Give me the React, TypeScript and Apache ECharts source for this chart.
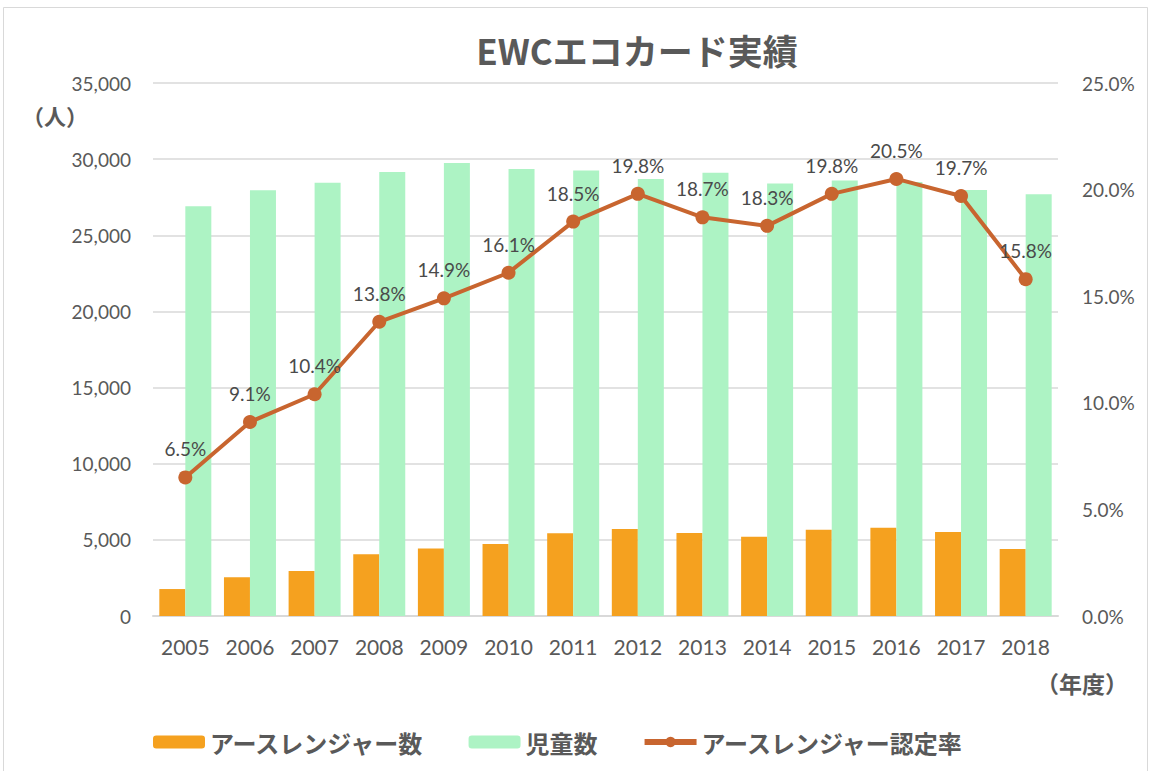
import React, { useEffect, useRef } from "react";
import * as echarts from "echarts";

const years = ["2005","2006","2007","2008","2009","2010","2011","2012","2013","2014","2015","2016","2017","2018"];
const earthRangers = [1770, 2540, 2950, 4050, 4440, 4730, 5430, 5710, 5450, 5210, 5670, 5800, 5520, 4400];
const children = [26900, 27950, 28450, 29150, 29750, 29350, 29250, 28700, 29100, 28400, 28600, 28500, 27970, 27700];
const rate = [6.5, 9.1, 10.4, 13.8, 14.9, 16.1, 18.5, 19.8, 18.7, 18.3, 19.8, 20.5, 19.7, 15.8];

const numFont = "Lato, 'Noto Sans', sans-serif";
const jpFont = "'Noto Sans CJK JP', sans-serif";

export default function App() {
  const ref = useRef<HTMLDivElement>(null);
  useEffect(() => {
    if (!ref.current) return;
    const chart = echarts.init(ref.current, null, { renderer: "svg" });
    chart.setOption({
      animation: false,
      backgroundColor: "#ffffff",
      title: {
        text: "EWCエコカード実績",
        left: 632,
        top: 27,
        textAlign: "center",
        textStyle: { fontFamily: jpFont, fontSize: 35, fontWeight: "bold", color: "#595959" },
      },
      graphic: [
        { type: "rect", shape: { x: 3.5, y: 7.5, width: 1144, height: 800 }, style: { fill: "none", stroke: "#D9D9D9", lineWidth: 1 }, silent: true, z: -1 },
        { type: "text", left: 22, top: 104, style: { text: "（人）", font: "bold 22px 'Noto Sans CJK JP'", fill: "#595959" } },
        { type: "text", left: 1036, top: 671, style: { text: "（年度）", font: "bold 23px 'Noto Sans CJK JP'", fill: "#595959" } },
      ],
      legend: {
        bottom: 12,
        left: 148,
        itemWidth: 52,
        itemHeight: 13,
        itemGap: 44,
        textStyle: { fontFamily: jpFont, fontSize: 24, fontWeight: "bold", color: "#595959", padding: [0, 0, 0, 0] },
        data: [
          { name: "アースレンジャー数" },
          { name: "児童数" },
          { name: "アースレンジャー認定率", lineStyle: { width: 6 }, itemStyle: { color: "#C8652F" } },
        ],
      },
      grid: { left: 153, right: 93, top: 83, bottom: 155, containLabel: false },
      xAxis: {
        type: "category",
        data: years,
        axisLine: { lineStyle: { color: "#D9D9D9", width: 2 } },
        axisTick: { show: false },
        axisLabel: { fontFamily: numFont, fontSize: 21, color: "#595959", margin: 20 },
      },
      yAxis: [
        {
          type: "value",
          min: 0,
          max: 35000,
          interval: 5000,
          axisLine: { show: false },
          axisTick: { show: false },
          splitLine: { lineStyle: { color: "#D9D9D9", width: 1.5 } },
          axisLabel: {
            fontFamily: numFont, fontSize: 19, color: "#595959", margin: 22,
            formatter: (v: number) => v.toLocaleString("en-US"),
          },
        },
        {
          type: "value",
          min: 0,
          max: 25,
          interval: 5,
          axisLine: { show: false },
          axisTick: { show: false },
          splitLine: { show: false },
          axisLabel: {
            fontFamily: numFont, fontSize: 19, color: "#595959", margin: 24,
            formatter: (v: number) => v.toFixed(1) + "%",
          },
        },
      ],
      series: [
        {
          name: "アースレンジャー数",
          type: "bar",
          data: earthRangers,
          barWidth: 26,
          barGap: "0%",
          itemStyle: { color: "#F5A11F" },
        },
        {
          name: "児童数",
          type: "bar",
          data: children,
          barWidth: 26,
          barGap: "0%",
          itemStyle: { color: "#ADF3C4" },
        },
        {
          name: "アースレンジャー認定率",
          type: "line",
          yAxisIndex: 1,
          data: rate,
          symbol: "circle",
          symbolSize: 14,
          lineStyle: { color: "#C8652F", width: 4 },
          itemStyle: { color: "#C8652F" },
          label: {
            show: true,
            position: "top",
            distance: 12,
            fontFamily: numFont,
            fontSize: 19,
            color: "#4a4a4a",
            formatter: (p: any) => p.value.toFixed(1) + "%",
          },
          z: 5,
        },
      ],
    });
    return () => chart.dispose();
  }, []);
  return <div ref={ref} style={{ position: "absolute", left: 0, top: 0, width: 1151, height: 771 }} />;
}
